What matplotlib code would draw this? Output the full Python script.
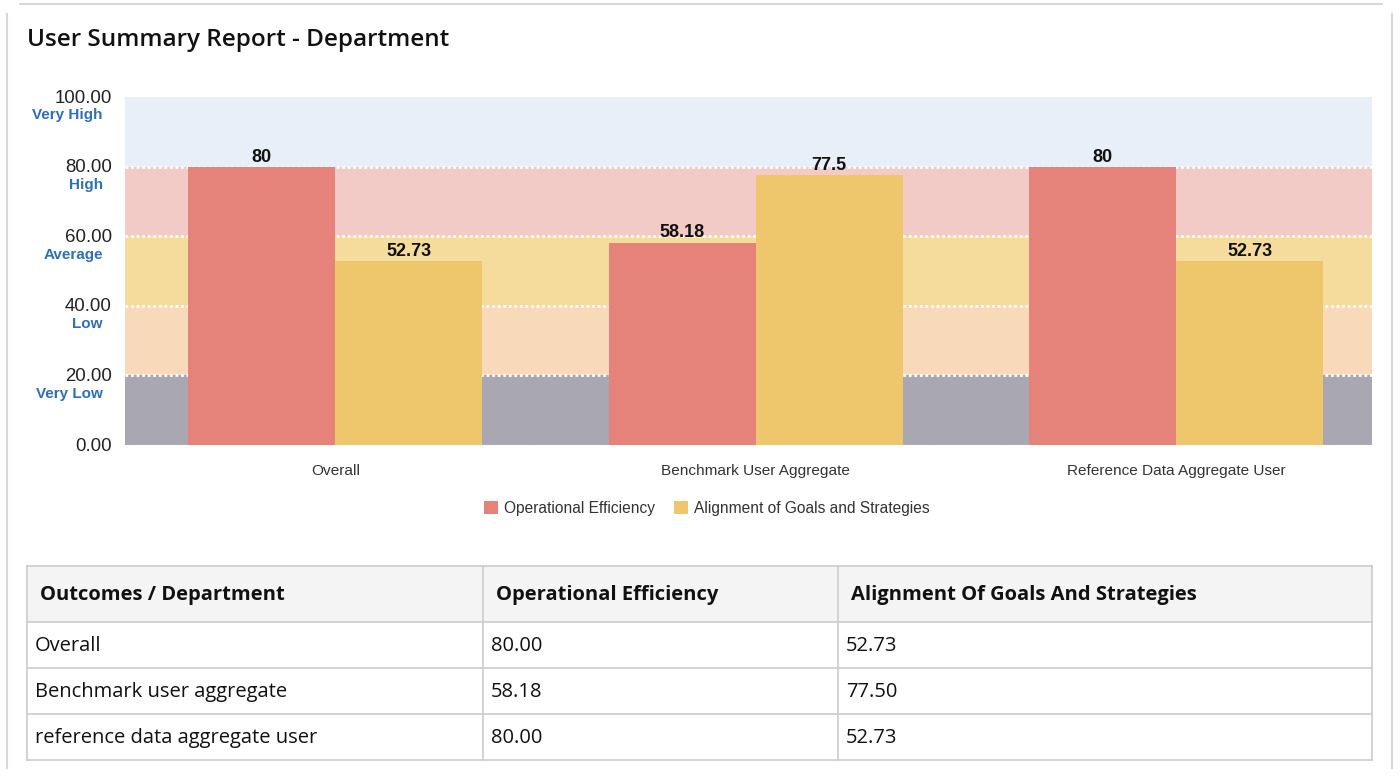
import matplotlib
matplotlib.use("Agg")
import matplotlib.pyplot as plt
from matplotlib.patches import Rectangle
import numpy as np

# ---- data ----
categories = ["Overall", "Benchmark User Aggregate", "Reference Data Aggregate User"]
table_rows = ["Overall", "Benchmark user aggregate", "reference data aggregate user"]
series_names = ["Operational Efficiency", "Alignment of Goals and Strategies"]
table_headers = ["Outcomes / Department", "Operational Efficiency", "Alignment Of Goals And Strategies"]
op_eff = [80, 58.18, 80]
align = [52.73, 77.5, 52.73]
band_edges = [0, 20, 40, 60, 80, 100]
band_names = ["Very Low", "Low", "Average", "High", "Very High"]
yticks = [0, 20, 40, 60, 80, 100]

band_colors = ["#A8A7B2", "#F8D9BA", "#F5DC9C", "#F2CBC6", "#E8EFF8"]
bar_colors = ["#E5837A", "#EEC66B"]
label_blue = "#2F6FB5"

W, H = 1400, 784
fig = plt.figure(figsize=(W / 100, H / 100), dpi=100)
fig.patch.set_facecolor("white")

# card overlay axes in pixel coordinates
ov = fig.add_axes([0, 0, 1, 1])
ov.set_xlim(0, W)
ov.set_ylim(H, 0)
ov.axis("off")
ov.plot([20, 1382], [4, 4], color="#D0D0D0", lw=1.2)
ov.plot([7, 7], [14, 768], color="#D8D8D8", lw=1.5)
ov.plot([1392, 1392], [14, 768], color="#D8D8D8", lw=1.5)
ov.text(27, 40, "User Summary Report - Department", fontsize=17.5, fontweight="semibold",
        family=["Open Sans", "DejaVu Sans"], va="center", ha="left", color="#111111")

# ---- chart ----
ax = fig.add_axes([125 / W, (H - 445) / H, 1247 / W, 348 / H])
x = np.arange(len(categories))
step_px = 420.5
ax.set_xlim(-0.5, -0.5 + 1247 / step_px)
ax.set_ylim(0, 100)
for i in range(len(band_names)):
    ax.axhspan(band_edges[i], band_edges[i + 1], color=band_colors[i], zorder=0, lw=0)
for e in band_edges[1:-1]:
    ax.axhline(e, color="white", lw=2, ls=(0, (1, 1)), zorder=1)
ax.axhline(0, color="#D8D8D8", lw=1, ls=(0, (1, 1)), zorder=1)

bw = 0.3496
b1 = ax.bar(x - bw / 2, op_eff, bw, color=bar_colors[0], zorder=2, label=series_names[0])
b2 = ax.bar(x + bw / 2, align, bw, color=bar_colors[1], zorder=2, label=series_names[1])
for bars, vals in ((b1, op_eff), (b2, align)):
    for r, v in zip(bars, vals):
        ax.text(r.get_x() + r.get_width() / 2, v + 0.3, f"{v:g}", ha="center", va="bottom",
                fontsize=13, fontweight="bold", family="Liberation Sans", color="#111111")

for s in ax.spines.values():
    s.set_visible(False)
ax.set_yticks(yticks)
ax.set_yticklabels([])
ax.tick_params(axis="y", length=0)
ax.set_xticks(x)
ax.set_xticklabels(categories, fontsize=11.1, family="Liberation Sans", color="#333333")
ax.tick_params(axis="x", length=0, pad=14)

for t in yticks:
    ax.annotate(f"{t:.2f}", xy=(0, t), xycoords=("axes fraction", "data"),
                xytext=(-9.5, -0.8), textcoords="offset points", ha="right", va="center",
                fontsize=13.4, family="Liberation Sans", color="#222222")
for i, name in enumerate(band_names):
    ax.annotate(name, xy=(0, band_edges[i + 1]), xycoords=("axes fraction", "data"),
                xytext=(-16, -13.2), textcoords="offset points", ha="right", va="center",
                fontsize=11, fontweight="bold", family="Liberation Sans", color=label_blue)

leg = fig.legend(handles=[b1, b2], labels=series_names, loc="center",
                 bbox_to_anchor=(707 / W, 1 - 508 / H), ncol=2, frameon=False,
                 prop={"family": "Liberation Sans", "size": 11.2}, handlelength=0.9,
                 handleheight=0.9, handletextpad=0.4, columnspacing=1.2)
for t in leg.get_texts():
    t.set_color("#333333")

# ---- table ----
col_x = [27, 483, 838, 1372]
row_y = [566, 622, 668, 714, 760]
ov.add_patch(Rectangle((col_x[0], row_y[0]), col_x[-1] - col_x[0], row_y[1] - row_y[0],
                       facecolor="#F4F4F4", edgecolor="none"))
for yy in row_y:
    ov.plot([col_x[0], col_x[-1]], [yy, yy], color="#CCCCCC", lw=1.2)
for xx in col_x:
    ov.plot([xx, xx], [row_y[0], row_y[-1]], color="#CCCCCC", lw=1.2)
tfam = ["Open Sans", "DejaVu Sans"]
for j, h in enumerate(table_headers):
    ov.text(col_x[j] + 13, (row_y[0] + row_y[1]) / 2 + 1, h, fontsize=14.5, fontweight="bold",
            family=tfam, va="center", ha="left", color="#111111")
for i, name in enumerate(table_rows):
    yc = (row_y[i + 1] + row_y[i + 2]) / 2 + 1
    ov.text(col_x[0] + 8, yc, name, fontsize=14.5, family=tfam, va="center", ha="left", color="#111111")
    ov.text(col_x[1] + 8, yc, f"{op_eff[i]:.2f}", fontsize=14.5, family=tfam, va="center", ha="left", color="#111111")
    ov.text(col_x[2] + 8, yc, f"{align[i]:.2f}", fontsize=14.5, family=tfam, va="center", ha="left", color="#111111")

fig.savefig("out.png", dpi=100, facecolor="white")
